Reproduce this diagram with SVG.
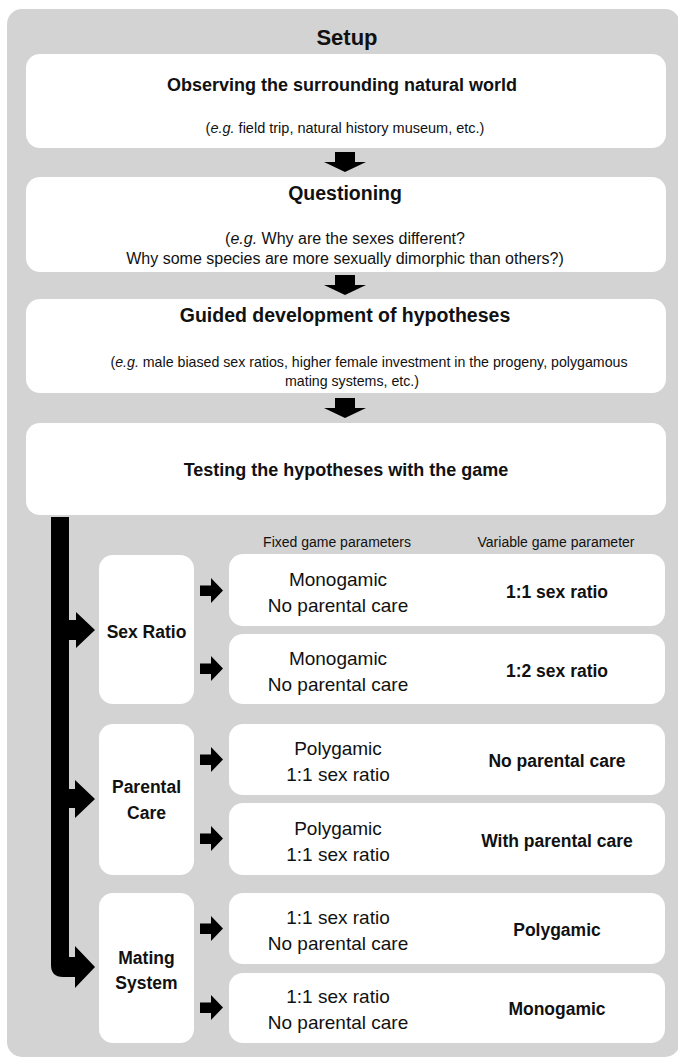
<svg xmlns="http://www.w3.org/2000/svg" width="678" height="1058" viewBox="0 0 678 1058">
<style>
text{font-family:"Liberation Sans",Arial,sans-serif;fill:#111;text-anchor:middle}
.box{fill:#fff}
.b{font-weight:bold}
.t22{font-size:22px}
.t19{font-size:19.5px}
.t18{font-size:18px}
.t175{font-size:17.5px}
.reg{font-size:19px}
.ex{font-size:14.5px}
.ex16{font-size:16px}
.ex15{font-size:14.2px}
.hdr{font-size:14px}
.arr{fill:#000}
</style>
<rect x="0" y="0" width="678" height="1058" fill="#fff"/>
<rect id="panel" x="7" y="9" width="673" height="1048" rx="15" fill="#d3d3d3"/>
<text class="b t22" x="347" y="45">Setup</text>

<g id="observing">
<rect class="box" x="26" y="54" width="640" height="94" rx="14"/>
<text class="b t18" x="342" y="91">Observing the surrounding  natural world</text>
<text class="ex" x="345" y="133">(<tspan font-style="italic">e.g.</tspan> field trip, natural history museum, etc.)</text>
</g>
<g id="questioning">
<rect class="box" x="26" y="177" width="640" height="95" rx="14"/>
<text class="b t19" x="345" y="200">Questioning</text>
<text class="ex16" x="345" y="244">(<tspan font-style="italic">e.g.</tspan> Why are the sexes different?</text>
<text class="ex16" x="345" y="264">Why some species are more sexually dimorphic than others?)</text>
</g>
<g id="hypotheses">
<rect class="box" x="26" y="299" width="640" height="94" rx="14"/>
<text class="b t19" x="345" y="322">Guided development of hypotheses</text>
<text class="ex15" x="369" y="367">(<tspan font-style="italic">e.g.</tspan> male biased sex ratios, higher female investment in the progeny, polygamous</text>
<text class="ex15" x="352" y="386">mating systems, etc.)</text>
</g>
<g id="testing">
<rect class="box" x="26" y="423" width="640" height="92" rx="14"/>
<text class="b t18" x="346" y="476">Testing the hypotheses with the game</text>
</g>

<g id="headers">
<text class="hdr" x="337" y="547">Fixed game parameters</text>
<text class="hdr" x="556" y="547">Variable game parameter</text>
</g>

<g id="sex-ratio">
<rect class="box" x="99" y="555" width="95" height="149" rx="14"/>
<text class="b t175" x="146.5" y="638">Sex Ratio</text>
</g>
<g id="sr-1">
<rect class="box" x="229" y="554" width="436" height="72" rx="14"/>
<text class="reg" x="338" y="586">Monogamic</text>
<text class="reg" x="338" y="612">No parental care</text>
<text class="b t175" x="557" y="598">1:1 sex ratio</text>
</g>
<g id="sr-2">
<rect class="box" x="229" y="634" width="436" height="70" rx="14"/>
<text class="reg" x="338" y="665">Monogamic</text>
<text class="reg" x="338" y="691">No parental care</text>
<text class="b t175" x="557" y="677">1:2 sex ratio</text>
</g>

<g id="parental-care">
<rect class="box" x="99" y="724" width="95" height="151" rx="14"/>
<text class="b t175" x="146.5" y="793">Parental</text>
<text class="b t175" x="146.5" y="819">Care</text>
</g>
<g id="pc-1">
<rect class="box" x="229" y="724" width="436" height="71" rx="14"/>
<text class="reg" x="338" y="755">Polygamic</text>
<text class="reg" x="338" y="781">1:1 sex ratio</text>
<text class="b t175" x="557" y="767">No parental care</text>
</g>
<g id="pc-2">
<rect class="box" x="229" y="803" width="436" height="72" rx="14"/>
<text class="reg" x="338" y="835">Polygamic</text>
<text class="reg" x="338" y="861">1:1 sex ratio</text>
<text class="b t175" x="557" y="847">With parental care</text>
</g>

<g id="mating-system">
<rect class="box" x="99" y="893" width="95" height="150" rx="14"/>
<text class="b t175" x="146.5" y="964">Mating</text>
<text class="b t175" x="146.5" y="989">System</text>
</g>
<g id="ms-1">
<rect class="box" x="229" y="893" width="436" height="71" rx="14"/>
<text class="reg" x="338" y="924">1:1 sex ratio</text>
<text class="reg" x="338" y="950">No parental care</text>
<text class="b t175" x="557" y="936">Polygamic</text>
</g>
<g id="ms-2">
<rect class="box" x="229" y="973" width="436" height="70" rx="14"/>
<text class="reg" x="338" y="1003">1:1 sex ratio</text>
<text class="reg" x="338" y="1029">No parental care</text>
<text class="b t175" x="557" y="1015">Monogamic</text>
</g>

<g id="connectors" class="arr">
<path d="M335,152 H355 V162 H366 L345,172 L324,162 H335 Z"/>
<path d="M335,275 H355 V285 H366 L345,295 L324,285 H335 Z"/>
<path d="M335,398 H355 V408 H366 L345,418 L324,408 H335 Z"/>
<path d="M51,517 H69 V957 H75 V946 L95,967 L75,988 V977 H63 Q51,977 51,965 Z"/>
<path d="M68,620 H76 V612 L95,630 L76,648 V640 H68 Z"/>
<path d="M68,789 H75 V780 L95,799 L75,818 V808 H68 Z"/>
<path d="M200,585.5 H211 V578 L223,590.5 L211,603 V596 H200 Z"/>
<path d="M200,663.5 H211 V656 L223,668.5 L211,681 V674 H200 Z"/>
<path d="M200,754.5 H211 V747 L223,759.5 L211,772 V765 H200 Z"/>
<path d="M200,833.5 H211 V826 L223,838.5 L211,851 V844 H200 Z"/>
<path d="M200,923.5 H211 V916 L223,928.5 L211,941 V934 H200 Z"/>
<path d="M200,1002.5 H211 V995 L223,1007.5 L211,1020 V1013 H200 Z"/>
</g>
</svg>
